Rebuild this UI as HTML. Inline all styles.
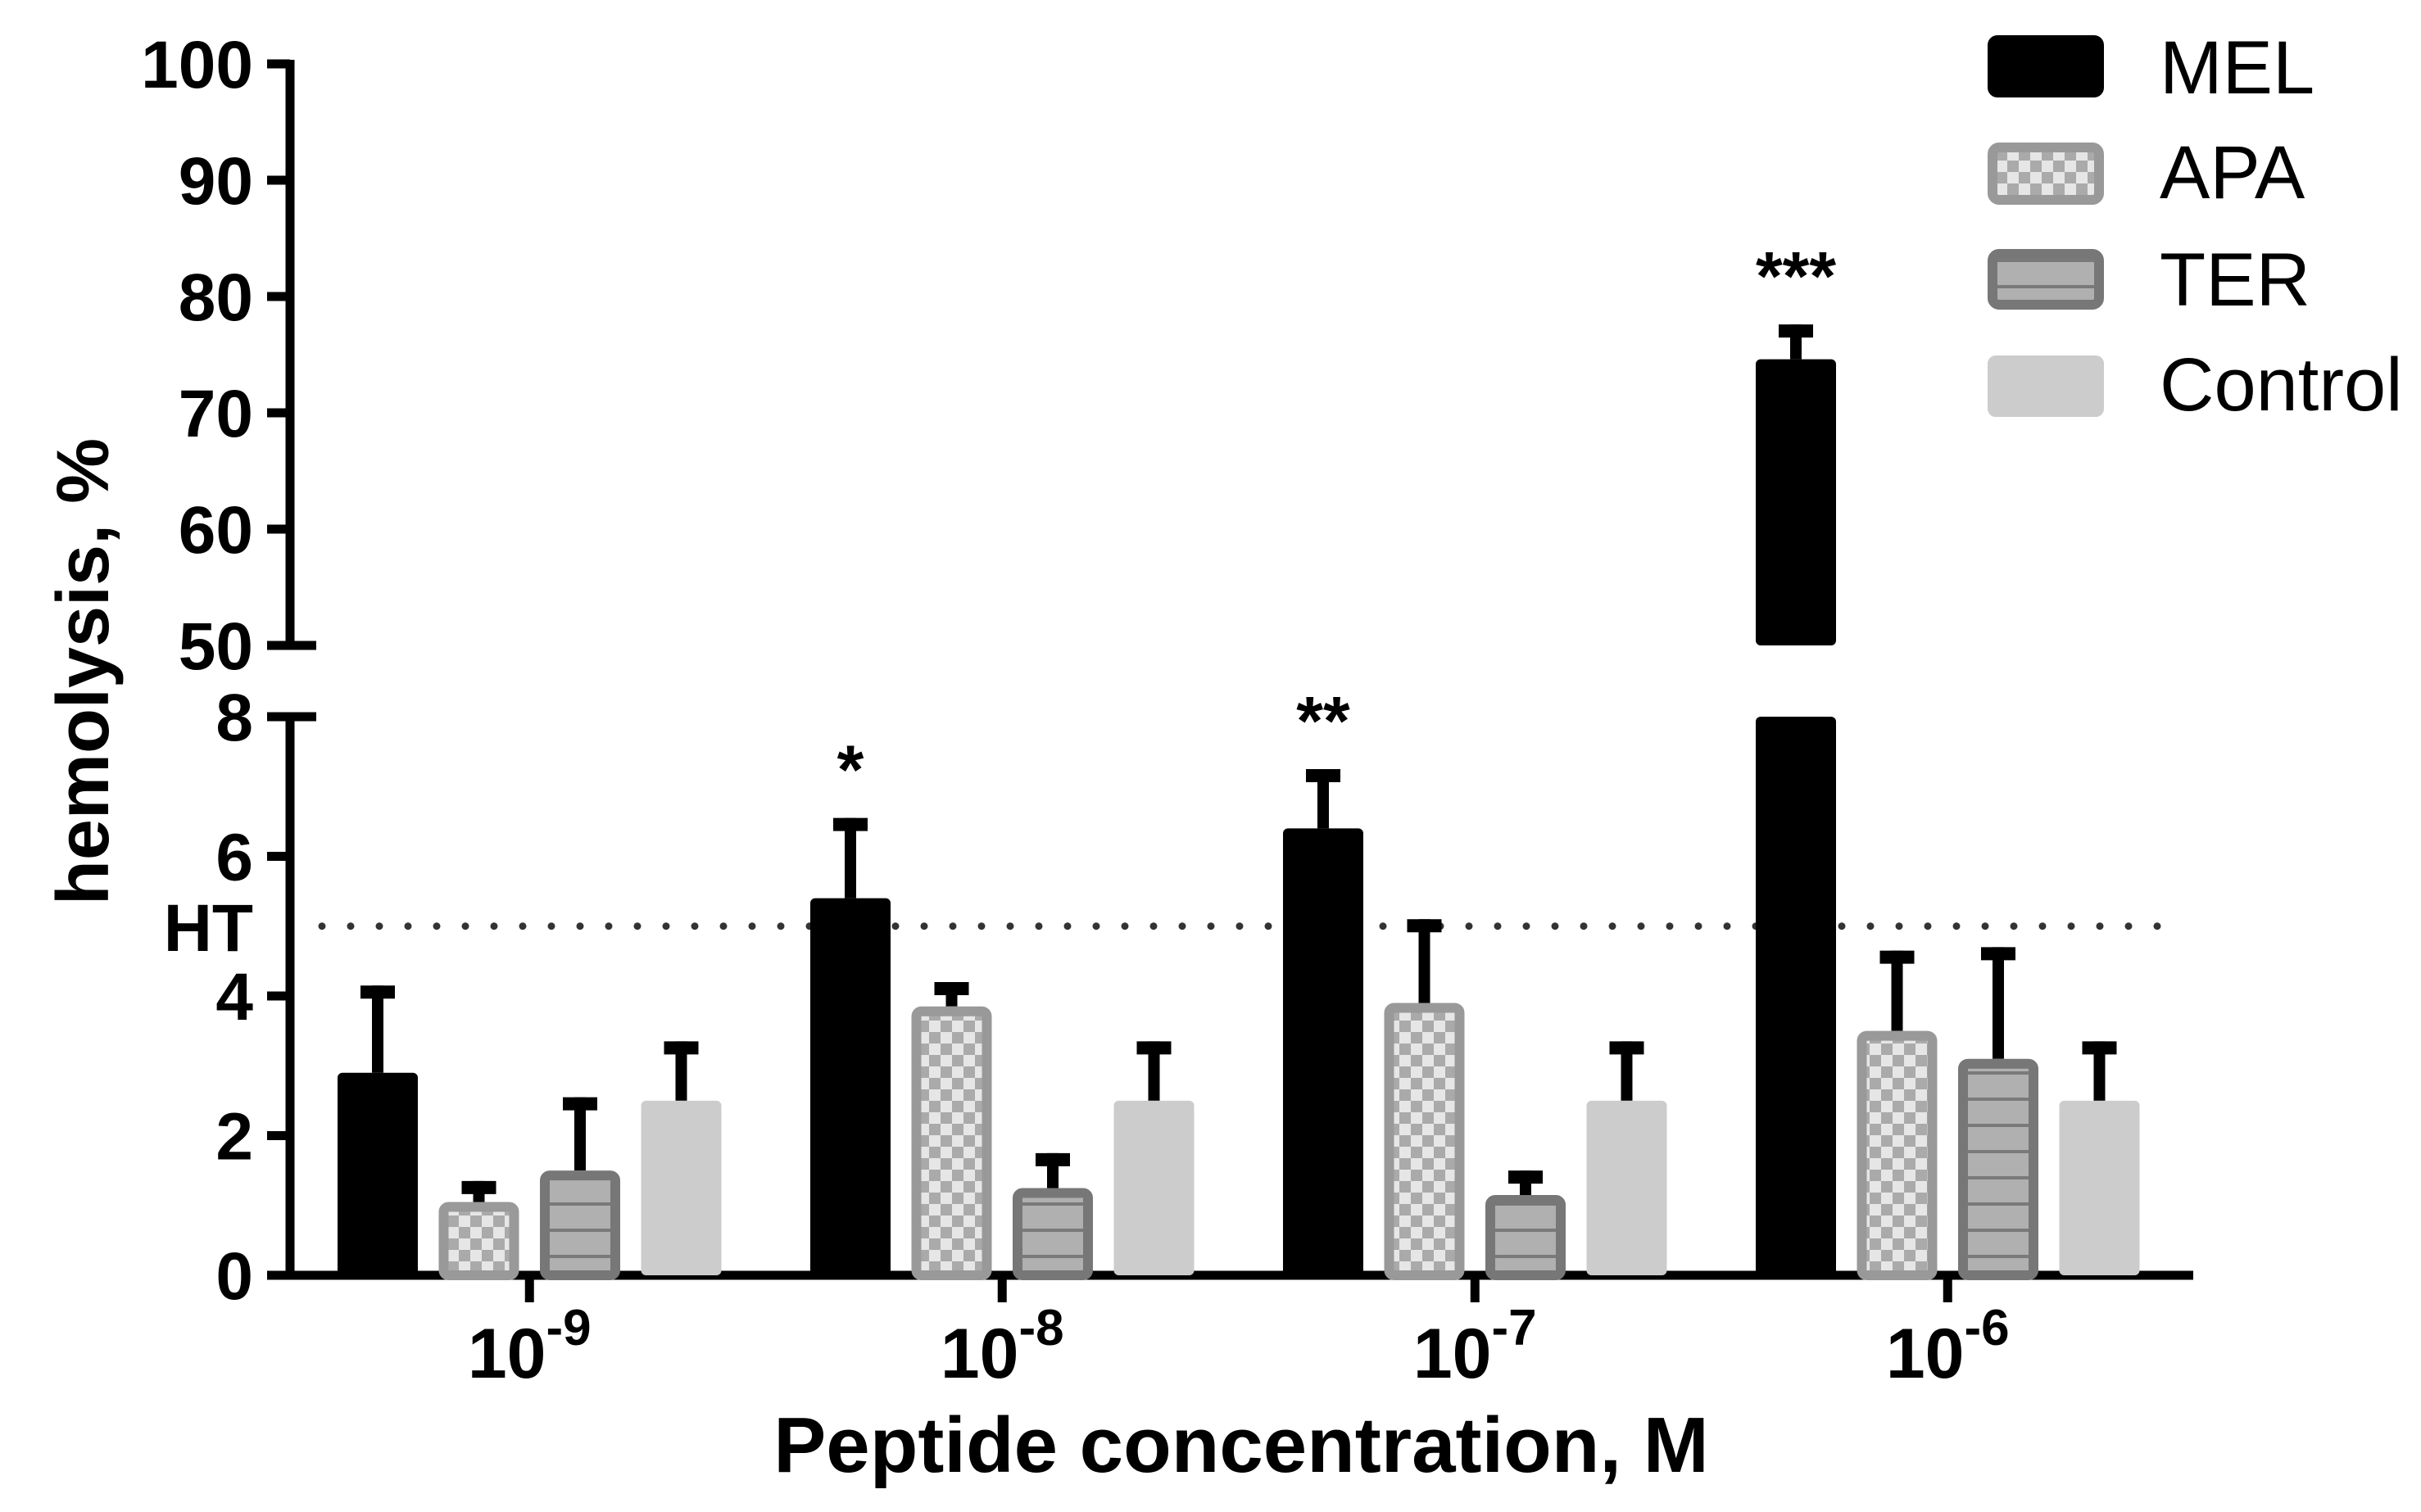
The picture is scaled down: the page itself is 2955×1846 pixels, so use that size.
<!DOCTYPE html>
<html><head><meta charset="utf-8"><style>
html,body{margin:0;padding:0;background:#fff}
svg{display:block}
text{font-family:"Liberation Sans",Arial,sans-serif}
</style></head><body>
<svg id="chart" width="2955" height="1846" viewBox="0 0 2955 1846" xmlns="http://www.w3.org/2000/svg">
<defs>
<pattern id="checker" width="28" height="28" patternUnits="userSpaceOnUse">
<rect width="28" height="28" fill="#aaaaaa"/><rect width="14" height="14" fill="#e6e6e6"/><rect x="14" y="14" width="14" height="14" fill="#e6e6e6"/>
</pattern>
<pattern id="stripes" width="20" height="32" patternUnits="userSpaceOnUse">
<rect width="20" height="32" fill="#b0b0b0"/><rect y="28" width="20" height="4" fill="#7a7a7a"/>
</pattern>
</defs>
<g id="plot"></g>
<text transform="translate(132,820) rotate(-90)" text-anchor="middle" font-size="90" font-weight="bold">hemolysis, %</text>
<text x="1515" y="1797" text-anchor="middle" font-size="96" font-weight="bold">Peptide concentration, M</text>
<text x="309" y="1161" text-anchor="end" font-size="82" font-weight="bold">HT</text>
<g>
<rect x="2426" y="43" width="142" height="76" rx="12" fill="#000"/>
<text x="2636" y="114" font-size="92">MEL</text>
<rect x="2432" y="180" width="130" height="64" rx="8" fill="url(#checker)" stroke="#999" stroke-width="12"/>
<text x="2636" y="242" font-size="92">APA</text>
<rect x="2432" y="310" width="130" height="62" rx="8" fill="url(#stripes)" stroke="#777" stroke-width="12"/>
<text x="2636" y="373" font-size="92">TER</text>
<rect x="2426" y="434" width="142" height="75" rx="10" fill="#cccccc"/>
<text x="2636" y="501" font-size="92">Control</text>
</g>
</svg>
<script>
const categories = ["-9","-8","-7","-6"];
const series = ["MEL","APA","TER","Control"];
const melValues = [2.9, 5.4, 6.4, 74.6];
const melErrTop = [4.15, 6.55, 7.25, 77.6];
const apaValues = [1.05, 3.85, 3.9, 3.5];
const apaErrTop = [1.35, 4.2, 5.1, 4.65];
const terValues = [1.5, 1.25, 1.15, 3.1];
const terErrTop = [2.55, 1.75, 1.5, 4.7];
const ctrlValues = [2.5, 2.5, 2.5, 2.5];
const ctrlErrTop = [3.35, 3.35, 3.35, 3.35];
const stars = ["", "*", "**", "***"];
const lowerTicks = [0, 2, 4, 6, 8];
const upperTicks = [50, 60, 70, 80, 90, 100];
const htValue = 5;

const NS = "http://www.w3.org/2000/svg";
const g = document.getElementById("plot");
const AX = 354, X0 = 1557, L8 = 875, U50 = 788, U100 = 78, XEND = 2677;
function yScale(v){
  if (v <= 8) return X0 - v * (X0 - L8) / 8;
  return U50 - (v - 50) * (U50 - U100) / 50;
}
const groupStart = 412, groupStep = 577, barStep = 123.5, barW = 98;
function xBar(gi, si){ return groupStart + gi * groupStep + si * barStep; }
function xCenter(gi){ return xBar(gi,0) + (3*barStep + barW)/2; }
function mk(tag, attrs){ const e = document.createElementNS(NS, tag); for (const k in attrs) e.setAttribute(k, attrs[k]); g.appendChild(e); return e; }

let e;
e = mk("line",{x1:AX,y1:U100-5,x2:AX,y2:U50,stroke:"#000","stroke-width":11});
 
e = mk("line",{x1:AX,y1:L8-5,x2:AX,y2:X0+5,stroke:"#000","stroke-width":11});
 
e = mk("line",{x1:AX-28,y1:X0,x2:XEND,y2:X0,stroke:"#000","stroke-width":11});
 
[...upperTicks, ...lowerTicks].forEach(t=>{
  const y = yScale(t);
  const ext = (t===50||t===8) ? 386 : AX;
  const tk = mk("line",{x1:326,y1:y,x2:ext,y2:y,stroke:"#000","stroke-width":11});
   
  const lb = mk("text",{x:309,y:y+29,"text-anchor":"end","font-size":82,"font-weight":"bold"});
  lb.textContent = t;
   
});
for (let x = 393; x <= 2660; x += 35){
  const d = mk("circle",{cx:x,cy:yScale(htValue),r:4.5,fill:"#333"});
   
}
categories.forEach((c,gi)=>{
  const xc = xCenter(gi);
  const tk = mk("line",{x1:xc,y1:X0,x2:xc,y2:1590,stroke:"#000","stroke-width":11});
   
  const lb = mk("text",{x:xc,y:1682,"text-anchor":"middle","font-size":86,"font-weight":"bold"});
   
  const t1 = document.createElementNS(NS,"tspan"); t1.textContent = "10"; lb.appendChild(t1);
  const t2 = document.createElementNS(NS,"tspan"); t2.setAttribute("dy","-40"); t2.setAttribute("font-size","62"); t2.textContent = c; lb.appendChild(t2);
});
const vals = [melValues, apaValues, terValues, ctrlValues];
const errs = [melErrTop, apaErrTop, terErrTop, ctrlErrTop];
const fills = ["#000","url(#checker)","url(#stripes)","#cccccc"];
const strokes = ["none","#999","#777","none"];
function barRect(x, y1, y2, si, name){
  const inset = strokes[si]==="none" ? 0 : 6;
  const r = mk("rect",{x:x+inset,y:y1+inset,width:barW-2*inset,height:Math.max(0,y2-y1-inset),rx:6,fill:fills[si]});
  if (inset){ r.setAttribute("stroke",strokes[si]); r.setAttribute("stroke-width",12); }
   
}
categories.forEach((c,gi)=>{
  series.forEach((s,si)=>{
    const v = vals[si][gi], et = errs[si][gi];
    const x = xBar(gi,si);
    const xm = x + barW/2;
    const el = mk("line",{x1:xm,y1:yScale(v),x2:xm,y2:yScale(et),stroke:"#000","stroke-width":14});
     
    const cap = mk("line",{x1:xm-21,y1:yScale(et)+8,x2:xm+21,y2:yScale(et)+8,stroke:"#000","stroke-width":16});
     
    if (v > 8){
      barRect(x, yScale(8), X0, si, 'bar-'+s.toLowerCase()+'-lower');
      barRect(x, yScale(v), yScale(50), si, 'bar-'+s.toLowerCase()+'-upper');
    } else {
      barRect(x, yScale(v), X0, si, 'bar-'+s.toLowerCase());
    }
    if (si===0 && stars[gi]){
      const st = mk("text",{x:xm,y:yScale(et)-30,"text-anchor":"middle","font-size":84,"font-weight":"bold"});
      st.textContent = stars[gi];
       
    }
  });
});
</script>
</body></html>
